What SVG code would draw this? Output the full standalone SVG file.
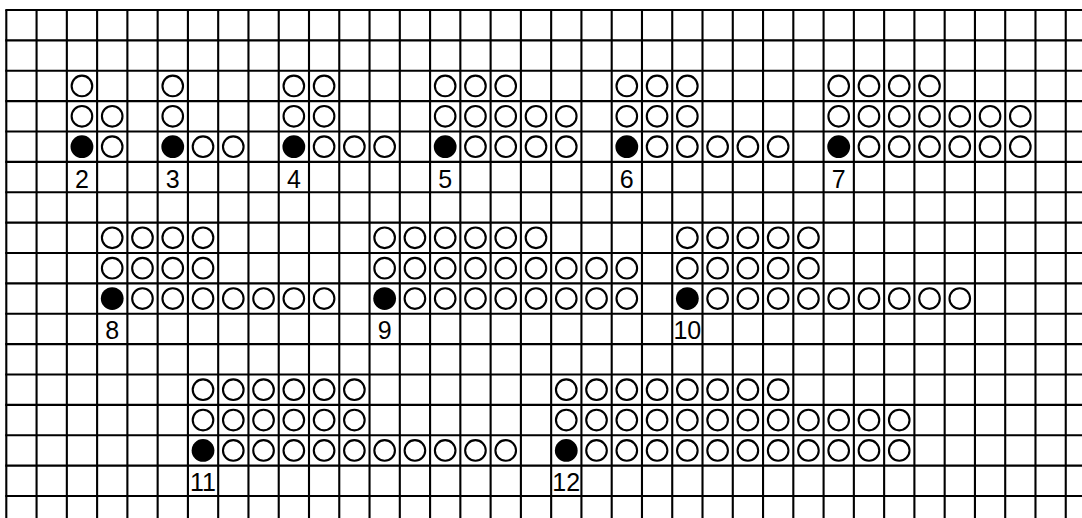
<svg xmlns="http://www.w3.org/2000/svg" xmlns:xlink="http://www.w3.org/1999/xlink" width="1082" height="518" viewBox="0 0 1082 518">
<style>
.grid{fill:none;stroke:#000;stroke-width:2.1}
.o{fill:#fff;stroke:#000;stroke-width:2.1}
.f{fill:#000}
.lbl{font-family:"Liberation Sans",Arial,Helvetica,sans-serif;font-size:25px;fill:#000;text-anchor:middle}
</style>
<defs>
<circle id="o" r="10.3" class="o"/>
<circle id="f" r="11.4" class="f"/>
<g id="n1"><use href="#o"/></g>
<g id="n2"><use href="#n1"/><use href="#o" x="30.27"/></g>
<g id="n3"><use href="#n2"/><use href="#o" x="60.54"/></g>
<g id="n4"><use href="#n3"/><use href="#o" x="90.81"/></g>
<g id="n5"><use href="#n4"/><use href="#o" x="121.08"/></g>
<g id="n6"><use href="#n5"/><use href="#o" x="151.35"/></g>
<g id="n7"><use href="#n6"/><use href="#o" x="181.62"/></g>
<g id="n8"><use href="#n7"/><use href="#o" x="211.89"/></g>
<g id="n9"><use href="#n8"/><use href="#o" x="242.16"/></g>
<g id="n10"><use href="#n9"/><use href="#o" x="272.43"/></g>
<g id="n11"><use href="#n10"/><use href="#o" x="302.7"/></g>
<g id="n12"><use href="#n11"/><use href="#o" x="332.97"/></g>
</defs>
<rect width="1082" height="518" fill="#fff"/>
<g id="grid">
<path class="grid" d="M6.3 10V518M36.57 10V518M66.84 10V518M97.11 10V518M127.38 10V518M157.65 10V518M187.92 10V518M218.19 10V518M248.46 10V518M278.73 10V518M309 10V518M339.27 10V518M369.54 10V518M399.81 10V518M430.08 10V518M460.35 10V518M490.62 10V518M520.89 10V518M551.16 10V518M581.43 10V518M611.7 10V518M641.97 10V518M672.24 10V518M702.51 10V518M732.78 10V518M763.05 10V518M793.32 10V518M823.59 10V518M853.86 10V518M884.13 10V518M914.4 10V518M944.67 10V518M974.94 10V518M1005.21 10V518M1035.48 10V518M1065.75 10V518"/>
<path class="grid" d="M5.3 10H1082M5.3 40.375H1082M5.3 70.75H1082M5.3 101.125H1082M5.3 131.5H1082M5.3 161.875H1082M5.3 192.25H1082M5.3 222.625H1082M5.3 253H1082M5.3 283.375H1082M5.3 313.75H1082M5.3 344.125H1082M5.3 374.5H1082M5.3 404.875H1082M5.3 435.25H1082M5.3 465.625H1082M5.3 496H1082"/>
</g>
<g id="fig2" transform="translate(81.94 146.69)">
<use href="#n1" y="-60.75"/><use href="#n2" y="-30.375"/><use href="#f"/><use href="#n1" x="30.27"/>
<text class="lbl" x="0" y="41">2</text>
</g>
<g id="fig3" transform="translate(172.75 146.69)">
<use href="#n1" y="-60.75"/><use href="#n1" y="-30.375"/><use href="#f"/><use href="#n2" x="30.27"/>
<text class="lbl" x="0" y="41">3</text>
</g>
<g id="fig4" transform="translate(293.83 146.69)">
<use href="#n2" y="-60.75"/><use href="#n2" y="-30.375"/><use href="#f"/><use href="#n3" x="30.27"/>
<text class="lbl" x="0" y="41">4</text>
</g>
<g id="fig5" transform="translate(445.18 146.69)">
<use href="#n3" y="-60.75"/><use href="#n5" y="-30.375"/><use href="#f"/><use href="#n4" x="30.27"/>
<text class="lbl" x="0" y="41">5</text>
</g>
<g id="fig6" transform="translate(626.8 146.69)">
<use href="#n3" y="-60.75"/><use href="#n3" y="-30.375"/><use href="#f"/><use href="#n5" x="30.27"/>
<text class="lbl" x="0" y="41">6</text>
</g>
<g id="fig7" transform="translate(838.69 146.69)">
<use href="#n4" y="-60.75"/><use href="#n7" y="-30.375"/><use href="#f"/><use href="#n6" x="30.27"/>
<text class="lbl" x="0" y="41">7</text>
</g>
<g id="fig8" transform="translate(112.21 298.56)">
<use href="#n4" y="-60.75"/><use href="#n4" y="-30.375"/><use href="#f"/><use href="#n7" x="30.27"/>
<text class="lbl" x="0" y="40.5">8</text>
</g>
<g id="fig9" transform="translate(384.64 298.56)">
<use href="#n6" y="-60.75"/><use href="#n9" y="-30.375"/><use href="#f"/><use href="#n8" x="30.27"/>
<text class="lbl" x="0" y="40.5">9</text>
</g>
<g id="fig10" transform="translate(687.34 298.56)">
<use href="#n5" y="-60.75"/><use href="#n5" y="-30.375"/><use href="#f"/><use href="#n9" x="30.27"/>
<text class="lbl" x="0" y="40.5">10</text>
</g>
<g id="fig11" transform="translate(203.02 450.44)">
<use href="#n6" y="-60.75"/><use href="#n6" y="-30.375"/><use href="#f"/><use href="#n10" x="30.27"/>
<text class="lbl" x="0" y="40.5">11</text>
</g>
<g id="fig12" transform="translate(566.26 450.44)">
<use href="#n8" y="-60.75"/><use href="#n12" y="-30.375"/><use href="#f"/><use href="#n11" x="30.27"/>
<text class="lbl" x="0" y="40.5">12</text>
</g>
<g id="connectors"/>
</svg>
